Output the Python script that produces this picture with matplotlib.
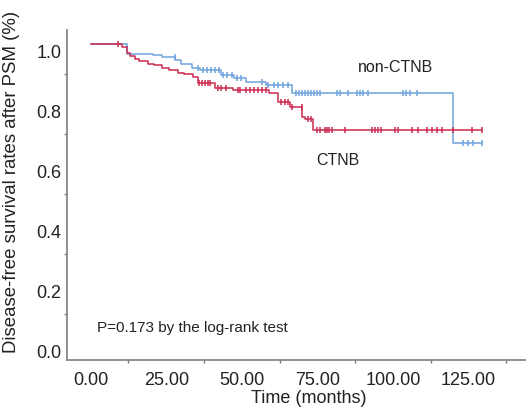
import numpy as np
import matplotlib
matplotlib.use("Agg")
import matplotlib.pyplot as plt
from matplotlib.transforms import ScaledTranslation

plt.rcParams['font.family'] = ['Liberation Sans', 'DejaVu Sans']

# step curves (time in months, survival)
blue_t = [0, 12, 20.5, 23.5, 28, 30, 33.5, 36, 43, 47.5, 51.5, 58, 66.5, 120, 129.5]
blue_s = [1.0, 0.967, 0.963, 0.957, 0.947, 0.933, 0.92, 0.913, 0.897, 0.887, 0.873, 0.863, 0.837, 0.67, 0.67]
blue_cens = [27.8, 35.4, 37, 38.4, 39.7, 41, 42.4, 43.7, 45, 46.7, 48.3, 49.7, 56.6, 58.6,
             60.6, 62, 63.6, 65.2, 67.9, 68.9, 69.9, 70.9, 71.9, 72.8, 73.8, 74.8, 75.8,
             81.5, 82.5, 85.1, 88, 89, 90, 91.7, 103.3, 104.3, 105.6, 108, 123.2, 124.8,
             126.5, 129.5]

red_t = [0, 10.5, 12, 13, 14.5, 16, 19, 21, 23.5, 26, 29, 31, 34, 35.5, 41, 47, 59, 62,
         66, 70, 71, 73.5, 129.5]
red_s = [1.0, 0.99, 0.97, 0.96, 0.95, 0.945, 0.935, 0.93, 0.92, 0.915, 0.905, 0.9, 0.89,
         0.87, 0.855, 0.847, 0.837, 0.807, 0.79, 0.757, 0.75, 0.713, 0.713]
red_cens = [9, 35.8, 36.8, 37.7, 38.7, 39.4, 42, 43, 44.7, 48.7, 49.3, 51.3, 52.6, 54,
            55.3, 56.6, 57.9, 63, 64.2, 65.2, 66.6, 69.9, 71.9, 72.8, 74.8, 75.8, 77.5,
            78.1, 78.8, 79.8, 84.1, 93, 94, 95, 96, 100.7, 101.7, 106.3, 108.3, 111.3,
            112.9, 114.6, 116.2, 119.9, 126.2, 129.5]

x_ticks = [0, 25, 50, 75, 100, 125]
y_ticks = [0.0, 0.2, 0.4, 0.6, 0.8, 1.0]

BLUE = '#6fa3dc'
RED = '#cc2a4e'


def surv_at(ts, ss, t):
    i = np.searchsorted(ts, t, side='right') - 1
    return ss[i]


fig = plt.figure(figsize=(5.26, 4.07), dpi=100)
ax = fig.add_axes([0.127, 0.1155, 0.873, 0.8105])

ax.step(blue_t, blue_s, where='post', color=BLUE, lw=1.1)
ax.step(red_t, red_s, where='post', color=RED, lw=1.1)
ax.plot(blue_cens, [surv_at(blue_t, blue_s, t) for t in blue_cens], ls='none',
        marker='|', ms=5, mew=1.1, color=BLUE)
ax.plot(red_cens, [surv_at(red_t, red_s, t) for t in red_cens], ls='none',
        marker='|', ms=5, mew=1.1, color=RED)

ax.set_xlim(-7.9, 144)
ax.set_ylim(-0.053, 1.047)

ax.set_xticks(x_ticks)
ax.set_xticklabels(['%.2f' % v for v in x_ticks])
ax.set_yticks(y_ticks)
ax.set_yticklabels(['%.1f' % v for v in y_ticks])
ax.set_xticks(np.arange(12.5, 140, 25), minor=True)
ax.set_yticks(np.arange(0.1, 1.0, 0.2), minor=True)
ax.tick_params(which='major', length=0, labelsize=13, colors='#222222')
ax.tick_params(axis='x', which='major', pad=9)
ax.tick_params(axis='y', which='major', pad=4)
ax.tick_params(which='minor', length=2.5, width=1, color='#777777')

for lab in ax.get_yticklabels():
    lab.set_transform(lab.get_transform() + ScaledTranslation(0, -5 / 72, fig.dpi_scale_trans))

for s in ['top', 'right']:
    ax.spines[s].set_visible(False)
for s in ['left', 'bottom']:
    ax.spines[s].set_color('#888888')
    ax.spines[s].set_linewidth(1.3)

ax.set_xlabel('Time (months)', fontsize=13, color='#222222', labelpad=0)
ax.xaxis.set_label_coords(0.527, -0.092)
ax.set_ylabel('Disease-free survival rates after PSM (%)', fontsize=13.4, color='#222222')
ax.yaxis.set_label_coords(-0.102, 0.54)

ax.text(100.7, 0.923, 'non-CTNB', fontsize=11.5, ha='center', va='center', color='#222222')
ax.text(81.8, 0.613, 'CTNB', fontsize=11.5, ha='center', va='center', color='#222222')
ax.text(2, 0.053, 'P=0.173 by the log-rank test', fontsize=11, ha='left', va='center',
        color='#222222')

fig.savefig('out.png', dpi=100)
